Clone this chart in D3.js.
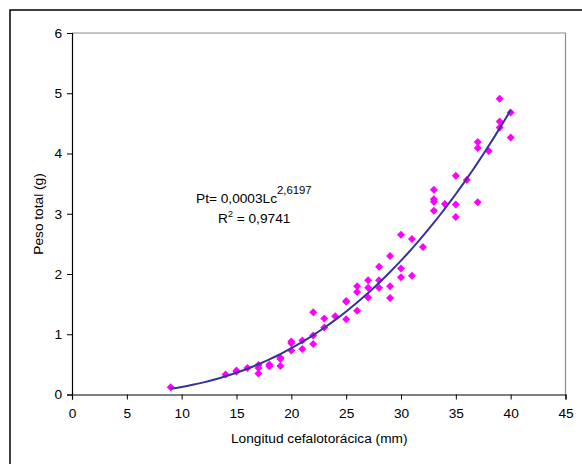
<!DOCTYPE html>
<html>
<head>
<meta charset="utf-8">
<script src="https://cdn.jsdelivr.net/npm/d3@7"></script>
<style>
  html, body { margin: 0; padding: 0; background: #fff; }
  svg { display: block; }
  text { font-family: "Liberation Sans", Arial, sans-serif; fill: #000; }
</style>
</head>
<body>
<svg id="chart" width="582" height="464"></svg>
<script>
// Data
const lengths = [9, 14, 15, 15, 16, 17, 17, 17, 18, 18, 19, 19, 19, 20, 20, 20, 21, 21,
  22, 22, 22, 23, 23, 24, 25, 25, 25, 26, 26, 26, 27, 27, 27, 28, 28, 28, 29, 29, 29,
  30, 30, 30, 31, 31, 32, 33, 33, 33, 33, 34, 35, 35, 35, 36, 37, 37, 37, 38, 39, 39, 39, 40, 40];
const weights = [0.12, 0.33, 0.40, 0.38, 0.44, 0.49, 0.44, 0.35, 0.50, 0.47, 0.61, 0.59, 0.475, 0.88, 0.85, 0.73, 0.895, 0.757,
  1.365, 0.98, 0.84, 1.26, 1.11, 1.30, 1.55, 1.54, 1.25, 1.795, 1.70, 1.39, 1.895, 1.77, 1.61, 2.12, 1.895, 1.77, 2.30, 1.795, 1.60,
  2.65, 2.09, 1.945, 2.58, 1.97, 2.45, 3.40, 3.24, 3.20, 3.05, 3.16, 3.63, 3.155, 2.945, 3.56, 4.19, 4.09, 3.19, 4.04, 4.91, 4.53, 4.43, 4.68, 4.265];

// Power trendline coefficients shown on the chart: Pt = a * Lc^b
const fitA = 0.0003;
const fitB = 2.6197;
const fitRange = [9, 40];

const xTicks = [0, 5, 10, 15, 20, 25, 30, 35, 40, 45];
const yTicks = [0, 1, 2, 3, 4, 5, 6];

const xLabel = "Longitud cefalotorácica (mm)";
const yLabel = "Peso total (g)";
const eqMain = "Pt= 0,0003Lc";
const eqExp = "2,6197";
const r2Label = "R";
const r2Rest = " = 0,9741";

const svg = d3.select("#chart");
const FS = 13.7;

// outer chart border
svg.append("rect").attr("x", 10).attr("y", 10).attr("width", 620).attr("height", 520)
  .attr("fill", "#fff").attr("stroke", "#000").attr("stroke-width", 1.5);

const pL = 72, pR = 565.5, pT = 33, pB = 394.5;
const x = d3.scaleLinear().domain([0, 45]).range([pL, pR]);
const y = d3.scaleLinear().domain([0, 6]).range([pB, pT]);

// plot area frame (top + right grey)
svg.append("path")
  .attr("d", `M${pL},${pT}H${pR}V${pB}`)
  .attr("fill", "none").attr("stroke", "#8c8c8c").attr("stroke-width", 1.2);

// axes
const xAxis = d3.axisBottom(x).tickValues(xTicks).tickSize(5).tickPadding(8).tickFormat(d3.format("d"));
const yAxis = d3.axisLeft(y).tickValues(yTicks).tickSize(5).tickPadding(5).tickFormat(d3.format("d"));

const gx = svg.append("g").attr("transform", `translate(0,${pB})`).call(xAxis);
const gy = svg.append("g").attr("transform", `translate(${pL},0)`).call(yAxis);
[gx, gy].forEach(g => {
  g.selectAll("path.domain").attr("stroke", "#000").attr("stroke-width", 1.2);
  g.selectAll(".tick line").attr("stroke", "#000").attr("stroke-width", 1);
  g.selectAll(".tick text").style("font-family", '"Liberation Sans", Arial, sans-serif')
    .style("font-size", FS + "px").attr("fill", "#000");
});
gx.selectAll(".tick text").attr("dy", "0.75em");

// axis titles
svg.append("text").attr("x", (pL + pR) / 2 + 0.5).attr("y", 443)
  .attr("text-anchor", "middle").style("font-size", FS + "px").text(xLabel);
svg.append("text").attr("transform", `translate(43,214) rotate(-90)`)
  .attr("text-anchor", "middle").style("font-size", FS + "px").text(yLabel);

// trendline
const steps = d3.range(fitRange[0], fitRange[1] + 0.001, 0.5);
const line = d3.line().x(d => x(d)).y(d => y(fitA * Math.pow(d, fitB)));

// markers
const r = 4;
svg.append("g").selectAll("path").data(lengths.map((l, i) => [l, weights[i]])).join("path")
  .attr("d", d => `M${x(d[0])},${y(d[1]) - r}L${x(d[0]) + r},${y(d[1])}L${x(d[0])},${y(d[1]) + r}L${x(d[0]) - r},${y(d[1])}Z`)
  .attr("fill", "#ff00ff");

svg.append("path").datum(steps).attr("d", line)
  .attr("fill", "none").attr("stroke", "#333399").attr("stroke-width", 2).attr("stroke-linejoin", "round");

// equation
const eq = svg.append("text").attr("x", 196).attr("y", 203).style("font-size", FS + "px");
eq.append("tspan").text(eqMain);
eq.append("tspan").attr("dy", -9).style("font-size", "11.3px").text(eqExp);

const r2 = svg.append("text").attr("x", 218).attr("y", 223).style("font-size", FS + "px");
r2.append("tspan").text(r2Label);
r2.append("tspan").attr("dy", -6).style("font-size", "9px").text("2");
r2.append("tspan").attr("dy", 6).text(r2Rest);
</script>
</body>
</html>
